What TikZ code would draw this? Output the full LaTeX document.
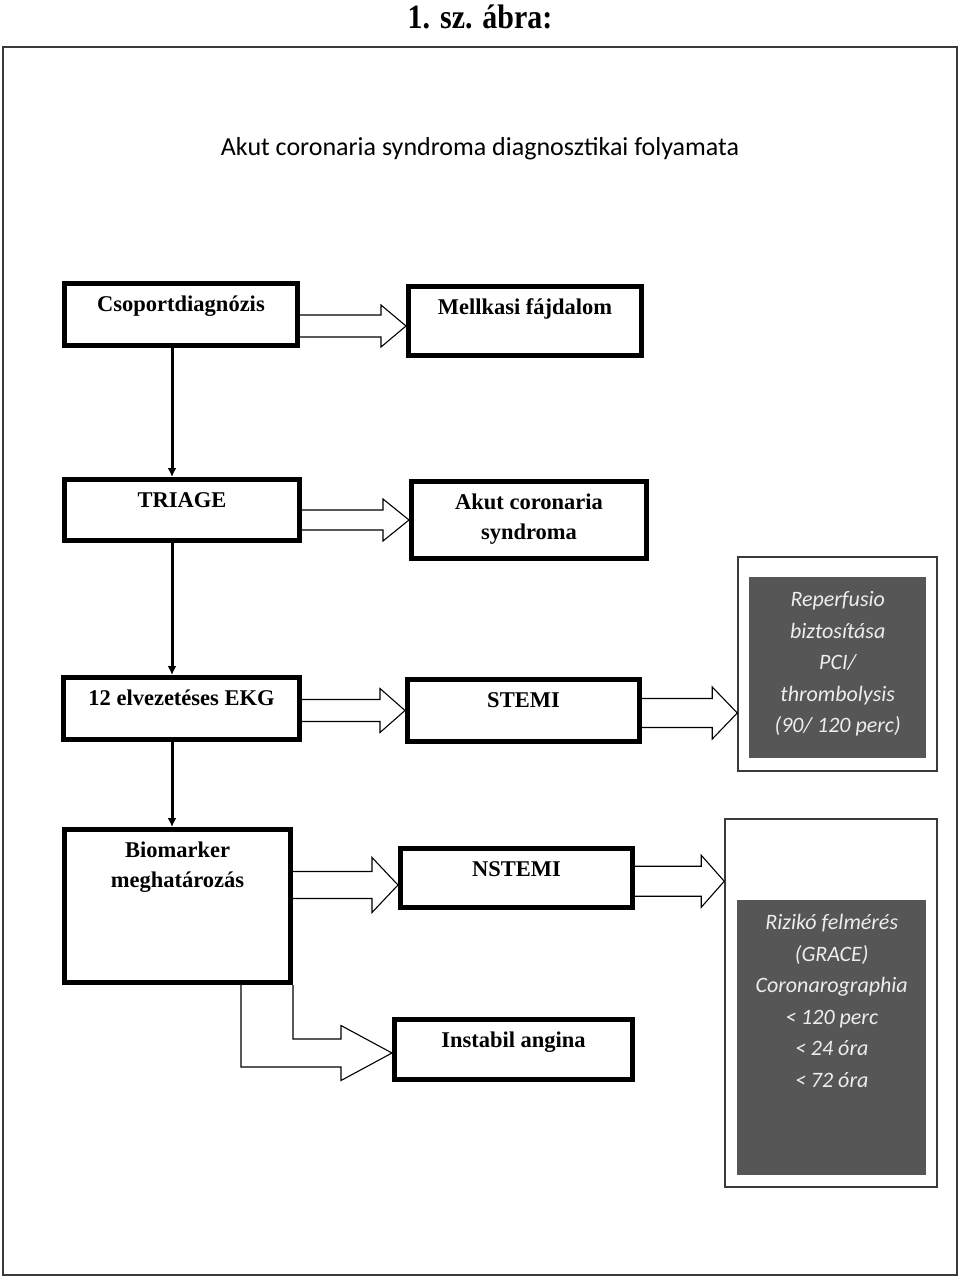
\documentclass[tikz,border=0pt]{standalone}
\usepackage{fontspec}
\usepackage{graphicx}
\setmainfont{Liberation Serif}
\newfontfamily\calibri{Carlito}
\usepackage{tikz}
\usetikzlibrary{arrows.meta}
\usetikzlibrary{calc}

\definecolor{darkfill}{HTML}{565656}
\definecolor{framegray}{HTML}{3A3A3A}

% text sits near the top of the boxes
\newcommand{\boxtext}[3]{\parbox[t][#2pt][t]{#1pt}{\centering\rule{0pt}{27.5pt}#3}}
\newcommand{\darktext}[3]{\parbox[t][#2pt][t]{#1pt}{\centering\rule{0pt}{29.5pt}#3}}
% hollow block arrow: start anchor, tip, shaft half width, head half width, head length
\newcommand{\blockarrow}[5]{%
  \draw[blockarr] ($(#1 |- #2)+(0,-#3)$) -- ($(#2)+(-#5,-#3)$) -- ($(#2)+(-#5,-#4)$) -- (#2)
    -- ($(#2)+(-#5,#4)$) -- ($(#2)+(-#5,#3)$) -- ($(#1 |- #2)+(0,#3)$);}

\tikzset{
  box/.style={draw, line width=5pt, inner sep=0pt, anchor=north west,
    font={\fontsize{22.5}{30}\selectfont\bfseries}},
  outerbox/.style={draw=framegray, line width=1.5pt, fill=white, inner sep=0pt, anchor=north west},
  darkbox/.style={fill=darkfill, inner sep=0pt, anchor=north west, text=white!93!black,
    font={\calibri\itshape\fontsize{22}{31.5}\selectfont}},
  blockarr/.style={draw, line width=1.1pt, fill=white, line join=miter},
  downarr/.style={line width=3pt, -{Latex[length=9pt,width=9pt]}}
}

\begin{document}
\begin{tikzpicture}[x=1pt,y=-1pt]
  \useasboundingbox (0,0) rectangle (960,1277);
  \fill[white] (0,0) rectangle (960,1277);

  \node[font={\fontsize{34}{40}\selectfont\bfseries}] (figtitle) at (480,17) {\scalebox{0.88}[1]{1. sz. ábra:}};
  \draw[line width=2pt, framegray] (3,47) rectangle (957,1275);
  \node[anchor=base, font={\calibri\fontsize{26}{30}\selectfont}] (heading) at (480,155)
    {Akut coronaria syndroma diagnosztikai folyamata};

  % left column
  \node[box] (csop) at (62,281) {\boxtext{233}{62}{Csoportdiagnózis}};
  \node[box] (triage) at (62,477) {\boxtext{235}{61}{TRIAGE}};
  \node[box] (ekg) at (61,675) {\boxtext{236}{62}{12 elvezetéses EKG}};
  \node[box] (bio) at (62,827) {\boxtext{226}{153}{Biomarker\\meghatározás}};

  % middle column
  \node[box] (mell) at (406,284) {\boxtext{233}{69}{Mellkasi fájdalom}};
  \node[box] (akut) at (409,479) {\boxtext{235}{77}{Akut coronaria\\syndroma}};
  \node[box] (stemi) at (405,677) {\boxtext{232}{62}{STEMI}};
  \node[box] (nstemi) at (398,846) {\boxtext{232}{59}{NSTEMI}};
  \node[box] (instab) at (392,1017) {\boxtext{238}{60}{Instabil angina}};

  % right column
  \node[outerbox, minimum width=199pt, minimum height=214pt] (reperfOut) at (737.25,556.25) {};
  \node[darkbox] (reperf) at (749,577)
    {\darktext{177}{181}{Reperfusio\\biztosítása\\PCI/\\thrombolysis\\(90/ 120 perc)}};
  \node[outerbox, minimum width=212pt, minimum height=368pt] (rizOut) at (724.25,818.25) {};
  \node[darkbox] (riz) at (737,900)
    {\darktext{189}{275}{Rizikó felmérés\\(GRACE)\\Coronarographia\\< 120 perc\\< 24 óra\\< 72 óra}};

  % vertical flow
  \coordinate (spine) at (172,0);
  \draw[downarr] (csop.south -| spine) -- (triage.north -| spine);
  \draw[downarr] (triage.south -| spine) -- (ekg.north -| spine);
  \draw[downarr] (ekg.south -| spine) -- (bio.north -| spine);

  % block arrows
  \coordinate (tipMell) at ($(mell.west)+(0,5)$);
  \blockarrow{csop.east}{tipMell}{11}{21}{25}
  \coordinate (tipAkut) at (akut.west);
  \blockarrow{triage.east}{tipAkut}{10}{21}{26}
  \coordinate (tipStemi) at (stemi.west);
  \blockarrow{ekg.east}{tipStemi}{11}{22}{25}
  \coordinate (tipReperf) at ($(reperfOut.west)+(0,49)$);
  \blockarrow{stemi.east}{tipReperf}{14.5}{26}{25}
  \coordinate (tipNstemi) at ($(nstemi.west)+(0,7)$);
  \blockarrow{bio.east}{tipNstemi}{13.5}{27.5}{26}
  \coordinate (tipRiz) at ($(rizOut.north west)+(0,63)$);
  \blockarrow{nstemi.east}{tipRiz}{15}{26}{23}

  % bent arrow to Instabil angina
  \coordinate (tipInst) at ($(instab.west)+(0,3.5)$);
  \draw[blockarr] (bio.south east) -- ($(bio.south east |- tipInst)+(0,-14)$)
    -- ($(tipInst)+(-51,-14)$) -- ($(tipInst)+(-51,-27.5)$) -- (tipInst)
    -- ($(tipInst)+(-51,27.5)$) -- ($(tipInst)+(-51,14)$)
    -- ($(bio.south east |- tipInst)+(-52,14)$) -- ($(bio.south east)+(-52,0)$);
\end{tikzpicture}
\end{document}
